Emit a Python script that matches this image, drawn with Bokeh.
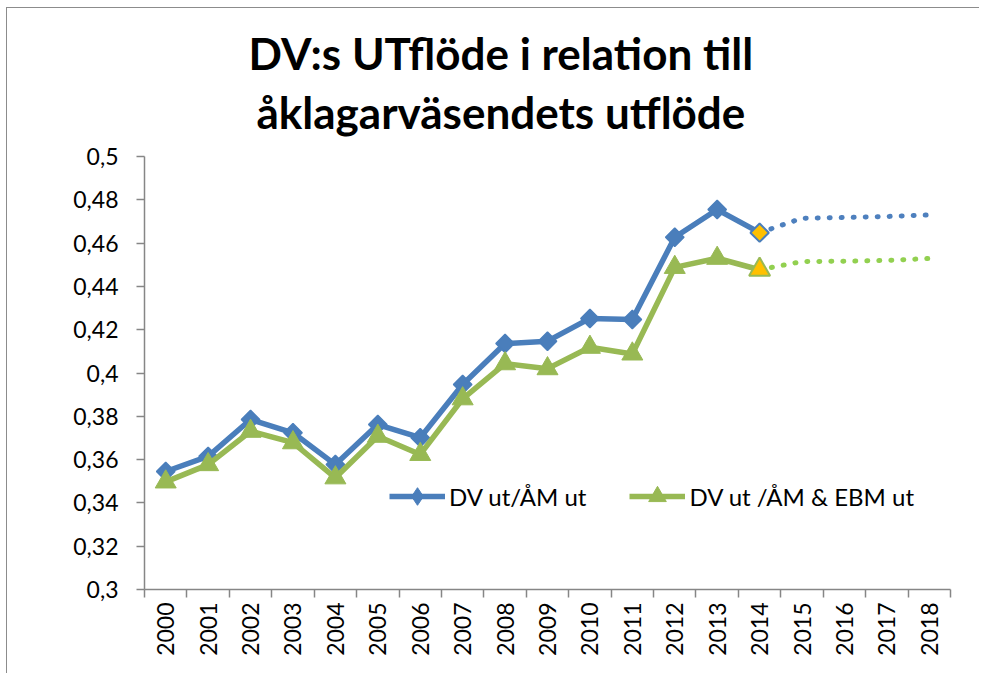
import math
from bokeh.plotting import figure
from bokeh.models import FixedTicker, Legend, LegendItem, Range1d, Title
from bokeh.embed import file_html
from bokeh.resources import INLINE

years = [str(y) for y in range(2000, 2019)]
actual_years = [str(y) for y in range(2000, 2015)]
dv_am = [0.3545, 0.3615, 0.3785, 0.3724, 0.3577, 0.3762, 0.3701, 0.3947, 0.4136, 0.4147,
         0.4252, 0.4247, 0.4627, 0.4755, 0.4648]
dv_am_ebm = [0.3497, 0.3577, 0.3731, 0.3678, 0.3516, 0.3708, 0.3624, 0.3881, 0.4043, 0.4020,
             0.4119, 0.4088, 0.4488, 0.4530, 0.4477]
proj_years = ["2014", "2015", "2016", "2017", "2018"]
dv_am_proj = [0.4648, 0.4715, 0.4718, 0.4723, 0.4730]
dv_am_ebm_proj = [0.4477, 0.4515, 0.4516, 0.4520, 0.4529]
y_ticks = [0.30, 0.32, 0.34, 0.36, 0.38, 0.40, 0.42, 0.44, 0.46, 0.48, 0.50]
y_tick_labels = ["0,3", "0,32", "0,34", "0,36", "0,38", "0,4", "0,42", "0,44", "0,46", "0,48", "0,5"]
title_lines = ["DV:s UTflöde i relation till", "åklagarväsendets utflöde"]
series_names = ["DV ut/ÅM ut", "DV ut /ÅM & EBM ut"]

FONT = "Lato"
BLUE = "#4A7EBB"
GREEN = "#98B954"
BLUE_DOT = "#4E80BE"
GREEN_DOT = "#92D050"
HIGHLIGHT = "#FFC000"
AXIS = "#868686"

W, H = 973, 666
ML, MR, MT, MB = 137, 30, 148, 85

pos = {y: i + 0.5 for i, y in enumerate(years)}
xa = [pos[y] for y in actual_years]
xp = [pos[y] for y in proj_years]

p = figure(width=W, height=H, output_backend="svg", toolbar_location=None,
           x_range=Range1d(0, len(years)), y_range=Range1d(0.3, 0.5),
           min_border_left=ML, min_border_right=MR, min_border_top=MT, min_border_bottom=MB)
p.title = None
p.outline_line_color = None
p.grid.grid_line_color = None
p.styles = {"margin-left": "6px", "margin-top": "7px",
            "border-left": "1.5px solid #8C8C8C", "border-top": "1.5px solid #8C8C8C"}

# spacer between the plot and the title
p.add_layout(Title(text=" ", text_font_size="1px", standoff=16), "above")
# title lines (added bottom-up: the last line sits nearest the plot)
for t, off, so in reversed(list(zip(title_lines, [104, 112], [9, 0]))):
    p.add_layout(Title(text=t, align="left", offset=off, standoff=so, text_font=FONT,
                       text_font_size="44px", text_font_style="bold", text_color="black"),
                 "above")

# x axis: labels at category centres, ticks between categories
xax = p.xaxis[0]
xax.ticker = FixedTicker(ticks=[pos[y] for y in years], minor_ticks=list(range(len(years) + 1)))
xax.major_label_overrides = {pos[y]: y for y in years}
xax.major_label_orientation = math.pi / 2
xax.major_tick_out = 0
xax.major_tick_in = 0
xax.minor_tick_out = 8
xax.minor_tick_in = 0
xax.minor_tick_line_color = AXIS
xax.axis_line_color = AXIS
xax.axis_line_width = 1.5
xax.minor_tick_line_width = 1.5
xax.major_label_text_font = FONT
xax.major_label_text_font_size = "23px"
xax.major_label_text_color = "black"
xax.major_label_standoff = 5

yax = p.yaxis[0]
yax.ticker = FixedTicker(ticks=y_ticks, minor_ticks=[])
yax.major_label_overrides = {t: l for t, l in zip(y_ticks, y_tick_labels)}
yax.major_tick_out = 8
yax.major_tick_in = 0
yax.major_tick_line_color = AXIS
yax.major_tick_line_width = 1.5
yax.axis_line_color = AXIS
yax.axis_line_width = 1.5
yax.major_label_text_font = FONT
yax.major_label_text_font_size = "23px"
yax.major_label_text_color = "black"
yax.major_label_standoff = 18

# projections (dotted)
p.line(xp, dv_am_proj, line_color=BLUE_DOT, line_width=5, line_dash="1 11", line_cap="round")
p.line(xp, dv_am_ebm_proj, line_color=GREEN_DOT, line_width=5, line_dash="1 11", line_cap="round")

# main series
l1 = p.line(xa, dv_am, line_color=BLUE, line_width=5.5, line_join="round")
# diamond renderer used for the legend key; sits under the rotated squares below
k1 = p.scatter(xa, dv_am, marker="diamond", size=16, fill_color=BLUE, line_color=BLUE)
p.scatter(xa[:-1], dv_am[:-1], marker="square", angle=math.pi / 4, size=13,
          fill_color=BLUE, line_color=BLUE, line_width=1.5)
p.scatter(xa[-1:], dv_am[-1:], marker="square", angle=math.pi / 4, size=13,
          fill_color=HIGHLIGHT, line_color=BLUE, line_width=2)

l2 = p.line(xa, dv_am_ebm, line_color=GREEN, line_width=5.5, line_join="round")
m2 = p.scatter(xa[:-1], dv_am_ebm[:-1], marker="triangle", size=21, fill_color=GREEN, line_color=GREEN)
p.scatter(xa[-1:], dv_am_ebm[-1:], marker="triangle", size=21, fill_color=HIGHLIGHT,
          line_color=GREEN, line_width=2)

legend = Legend(items=[LegendItem(label=series_names[0], renderers=[l1, k1]),
                       LegendItem(label=series_names[1], renderers=[l2, m2])],
                orientation="horizontal", location=(245, 71), padding=0, margin=0,
                spacing=43, glyph_width=56, glyph_height=44, label_standoff=4,
                label_text_font=FONT, label_text_font_size="24px", label_text_color="black",
                border_line_color=None, background_fill_alpha=0)
p.add_layout(legend, "center")

open("out.html", "w").write(file_html(p, INLINE))
